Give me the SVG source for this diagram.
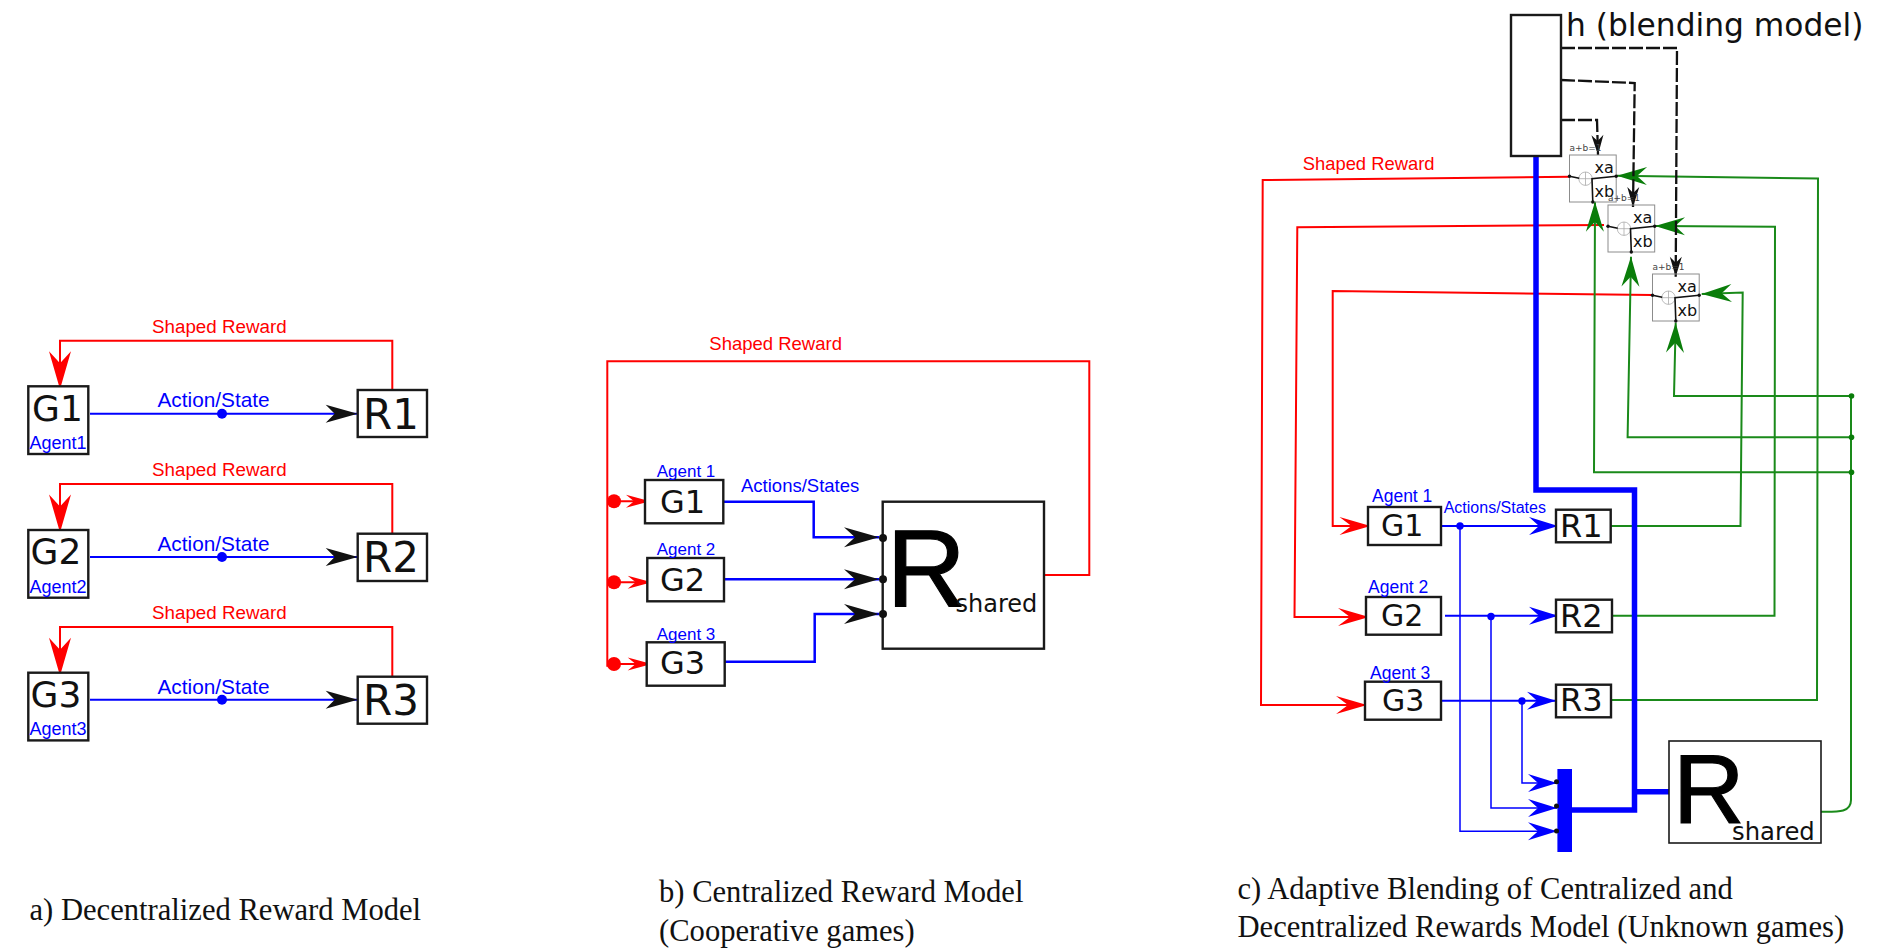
<svg xmlns="http://www.w3.org/2000/svg" width="1889" height="949" viewBox="0 0 1889 949">
<style>
.box{fill:#fff;stroke:#1a1a1a;stroke-width:2.4}
.l{fill:none}
.red{stroke:#f00;stroke-width:2}
.blue{stroke:#00f;stroke-width:2}
.blue3{stroke:#00f;stroke-width:2.5}
.thick{stroke:#00f;stroke-width:5.5}
.green{stroke:#1a8a1a;stroke-width:2}
.dash{stroke:#111;stroke-width:2.3;stroke-dasharray:14 3}
text{font-family:"Liberation Sans",Arial,sans-serif}
.dj{font-family:"DejaVu Sans",sans-serif;fill:#111}
.bigR{fill:#000;stroke:#000;stroke-width:1.2}
.tr{fill:#f00}
.tb{fill:#00f}
.cap{font-family:"Liberation Serif","Times New Roman",serif;font-size:30.6px;fill:#111}
.mix{fill:none;stroke:#8c8c8c;stroke-width:1}
.sum{fill:#fff;stroke:#aaa;stroke-width:.8}
.plus{stroke:#aaa;stroke-width:.8}
.wire{fill:none;stroke:#111;stroke-width:1.6}
</style>
<defs>
<marker id="ra" markerUnits="userSpaceOnUse" markerWidth="40" markerHeight="24" refX="38" refY="11" orient="auto" overflow="visible"><path d="M0 0L38 11L0 22L12 11Z" fill="#f00"/></marker>
<marker id="ka" markerUnits="userSpaceOnUse" markerWidth="34" markerHeight="20" refX="32" refY="9" orient="auto" overflow="visible"><path d="M0 0L32 9L0 18L9 9Z" fill="#111"/></marker>
<marker id="kb" markerUnits="userSpaceOnUse" markerWidth="36" markerHeight="22" refX="35" refY="10" orient="auto" overflow="visible"><path d="M0 0L35 10L0 20L11 10Z" fill="#111"/></marker>
<marker id="rb" markerUnits="userSpaceOnUse" markerWidth="26" markerHeight="14" refX="24" refY="6.5" orient="auto" overflow="visible"><path d="M0 0L24 6.5L0 13L8 6.5Z" fill="#f00"/></marker>
<marker id="rc" markerUnits="userSpaceOnUse" markerWidth="32" markerHeight="20" refX="31" refY="9" orient="auto" overflow="visible"><path d="M0 0L31 9L0 18L12 9Z" fill="#f00"/></marker>
<marker id="bc" markerUnits="userSpaceOnUse" markerWidth="30" markerHeight="20" refX="29" refY="9" orient="auto" overflow="visible"><path d="M0 0L29 9L0 18L10 9Z" fill="#00f"/></marker>
<marker id="gc" markerUnits="userSpaceOnUse" markerWidth="32" markerHeight="20" refX="30" refY="9" orient="auto" overflow="visible"><path d="M0 0L30 9L0 18L10 9Z" fill="#0a7d0a"/></marker>
<marker id="kc" markerUnits="userSpaceOnUse" markerWidth="22" markerHeight="14" refX="20" refY="6" orient="auto" overflow="visible"><path d="M0 0L20 6L0 12L6 6Z" fill="#111"/></marker>
</defs>
<rect width="1889" height="949" fill="#fff"/>

<g id="connectors">
<g id="conn-a" class="l">
<path class="red" d="M392.3 390V340.7H60V389.3" marker-end="url(#ra)"/>
<path class="red" d="M392.3 533.7V484H60V532.5" marker-end="url(#ra)"/>
<path class="red" d="M392.3 676.7V627H60V675.8" marker-end="url(#ra)"/>
<path class="blue" d="M90 413.7H357.7" marker-end="url(#ka)"/>
<path class="blue" d="M90 557H357.7" marker-end="url(#ka)"/>
<path class="blue" d="M90 699.7H357.7" marker-end="url(#ka)"/>
</g>
<g id="conn-b" class="l">
<path class="red" d="M1044 575H1089.3V361.3H607.3V666.7"/>
<path class="red" d="M614 501.3H650" marker-end="url(#rb)"/>
<path class="red" d="M614 582.3H651.7" marker-end="url(#rb)"/>
<path class="red" d="M614 664H651.7" marker-end="url(#rb)"/>
<path class="blue3" d="M723.3 501.7H813.7V537.3H879" marker-end="url(#kb)"/>
<path class="blue3" d="M724 579.3H879" marker-end="url(#kb)"/>
<path class="blue3" d="M724.7 661.7H814.7V614H879" marker-end="url(#kb)"/>
</g>
<g id="conn-c" class="l">
<path class="red" d="M1570 176.7L1262.7 180L1261 705H1367" marker-end="url(#rc)"/>
<path class="red" d="M1604 225L1297.3 227.3L1294.5 617H1369" marker-end="url(#rc)"/>
<path class="red" d="M1652 295L1332.7 291V526H1370.5" marker-end="url(#rc)"/>
<path class="green" d="M1610.7 526H1740.5L1742.7 292.5L1701.7 294" marker-end="url(#gc)"/>
<path class="green" d="M1612 615.7H1774.5L1775 226.7L1655 226" marker-end="url(#gc)"/>
<path class="green" d="M1611 700H1817L1818 178.5L1617 175.7" marker-end="url(#gc)"/>
<path class="green" d="M1821 811.7C1840 812 1851 812 1851 800V396H1674L1675.7 322.7" marker-end="url(#gc)"/>
<path class="green" d="M1851.5 437.3H1627.6L1631 256.7" marker-end="url(#gc)"/>
<path class="green" d="M1851.5 472.3H1594L1595 201.7" marker-end="url(#gc)"/>
<path class="thick" d="M1536 156V490H1634.5V810H1572"/>
<path class="thick" d="M1634.5 791.7H1669"/>
<path class="blue" d="M1441 526H1558" marker-end="url(#bc)"/>
<path class="blue" d="M1445 615.7H1558" marker-end="url(#bc)"/>
<path class="blue" d="M1441 700.7H1556" marker-end="url(#bc)"/>
<path class="blue" style="stroke-width:1.5" d="M1460 526V831.3H1557" marker-end="url(#bc)"/>
<path class="blue" style="stroke-width:1.5" d="M1491 616V808H1557" marker-end="url(#bc)"/>
<path class="blue" style="stroke-width:1.5" d="M1522 701V783H1557" marker-end="url(#bc)"/>
<path class="dash" d="M1561 48H1677L1675.7 276.7" marker-end="url(#kc)"/>
<path class="dash" d="M1561 80L1634.7 83L1633 207" marker-end="url(#kc)"/>
<path class="dash" d="M1561 120H1597L1598 155" marker-end="url(#kc)"/>
</g>
</g>

<g id="junctions">
<circle cx="222" cy="413.7" r="5" fill="#00f"/><circle cx="222" cy="557" r="5" fill="#00f"/><circle cx="222" cy="699.7" r="5" fill="#00f"/>
<circle cx="614" cy="501.3" r="7" fill="#f00"/><circle cx="614" cy="582.3" r="7" fill="#f00"/><circle cx="614" cy="664" r="7" fill="#f00"/>
<circle cx="1460" cy="526" r="3.7" fill="#00f"/><circle cx="1491" cy="616.5" r="3.7" fill="#00f"/><circle cx="1522" cy="701" r="3.7" fill="#00f"/>
<circle cx="1851.5" cy="396" r="2.8" fill="#0a7d0a"/><circle cx="1851.5" cy="437.3" r="2.8" fill="#0a7d0a"/><circle cx="1851.5" cy="472.3" r="2.8" fill="#0a7d0a"/>
</g>

<g id="a-G1"><rect class="box" x="28.3" y="386.3" width="60" height="67.7"/><text class="dj" x="32" y="420.7" font-size="36">G1</text><text class="tb" x="29.5" y="449" font-size="18">Agent1</text></g>
<g id="a-G2"><rect class="box" x="28.3" y="530" width="60" height="67.7"/><text class="dj" x="30.5" y="564.3" font-size="36">G2</text><text class="tb" x="29.5" y="592.7" font-size="18">Agent2</text></g>
<g id="a-G3"><rect class="box" x="28.3" y="672.7" width="60" height="67.7"/><text class="dj" x="30.5" y="707.3" font-size="36">G3</text><text class="tb" x="29.5" y="735" font-size="18">Agent3</text></g>
<g id="a-R1"><rect class="box" x="357.7" y="390" width="69.3" height="47"/><text class="dj" x="363" y="428.7" font-size="42">R1</text></g>
<g id="a-R2"><rect class="box" x="357.7" y="533.7" width="69.3" height="47.3"/><text class="dj" x="363" y="572.3" font-size="42">R2</text></g>
<g id="a-R3"><rect class="box" x="357.7" y="676.7" width="69.3" height="47"/><text class="dj" x="363" y="715" font-size="42">R3</text></g>
<g id="a-labels" font-size="18.8">
<text class="tr" x="152" y="332.7">Shaped Reward</text><text class="tr" x="152" y="476">Shaped Reward</text><text class="tr" x="152" y="619">Shaped Reward</text>
<text class="tb" x="157.5" y="407.3" font-size="20.8">Action/State</text><text class="tb" x="157.5" y="551" font-size="20.8">Action/State</text><text class="tb" x="157.5" y="693.7" font-size="20.8">Action/State</text>
</g>

<g id="b-G1"><rect class="box" x="645" y="480" width="78.3" height="43.3"/><text class="dj" x="660" y="512.7" font-size="32">G1</text><text class="tb" x="656.7" y="476.7" font-size="17">Agent 1</text></g>
<g id="b-G2"><rect class="box" x="647.3" y="558" width="76.7" height="43.3"/><text class="dj" x="660" y="591" font-size="32">G2</text><text class="tb" x="656.7" y="555" font-size="17">Agent 2</text></g>
<g id="b-G3"><rect class="box" x="646.7" y="642.3" width="78" height="43.4"/><text class="dj" x="660" y="674.3" font-size="32">G3</text><text class="tb" x="656.7" y="640" font-size="17">Agent 3</text></g>
<g id="b-Rshared"><rect class="box" x="882.7" y="501.7" width="161.3" height="147" style="fill:none"/><text class="bigR" x="886.5" y="606" font-size="110">R</text><text class="dj" x="955.5" y="611.7" font-size="24">shared</text>
<circle cx="883" cy="538" r="4" fill="#111"/><circle cx="883" cy="579.3" r="4" fill="#111"/><circle cx="883" cy="614" r="4" fill="#111"/></g>
<text id="b-reward" class="tr" x="709.3" y="350" font-size="18.5">Shaped Reward</text>
<text id="b-actions" class="tb" x="741" y="492.3" font-size="18.5">Actions/States</text>

<g id="c-h"><rect class="box" x="1511" y="15" width="50" height="141" style="fill:none"/><text class="dj" x="1566" y="35.5" font-size="31.3">h (blending model)</text></g>
<g id="c-mix1" transform="translate(1569.5 155)"><rect class="mix" width="46.7" height="47"/><circle class="sum" cx="16" cy="23.7" r="6.7"/><path class="plus" d="M9.3 23.7H22.7M16 17V30.4"/><path class="wire" d="M0 21.3L9.7 23.3M46.7 21.3L22.5 23.7L23.3 47"/><circle cy="21.3" r="1.7" fill="#111"/><circle cx="46.7" cy="21.3" r="1.7" fill="#111"/><circle cx="23.3" cy="47" r="1.7" fill="#111"/><text class="dj" x="25" y="17.7" font-size="16">xa</text><text class="dj" x="25" y="42.3" font-size="16">xb</text><text class="dj" x="0" y="-4" font-size="9" style="fill:#444">a+b=1</text></g>
<g id="c-mix2" transform="translate(1608 205)"><rect class="mix" width="46.7" height="47"/><circle class="sum" cx="16" cy="23.7" r="6.7"/><path class="plus" d="M9.3 23.7H22.7M16 17V30.4"/><path class="wire" d="M0 21.3L9.7 23.3M46.7 21.3L22.5 23.7L23.3 47"/><circle cy="21.3" r="1.7" fill="#111"/><circle cx="46.7" cy="21.3" r="1.7" fill="#111"/><circle cx="23.3" cy="47" r="1.7" fill="#111"/><text class="dj" x="25" y="17.7" font-size="16">xa</text><text class="dj" x="25" y="42.3" font-size="16">xb</text><text class="dj" x="0" y="-4" font-size="9" style="fill:#444">a+b=1</text></g>
<g id="c-mix3" transform="translate(1652.5 274)"><rect class="mix" width="46.7" height="47"/><circle class="sum" cx="16" cy="23.7" r="6.7"/><path class="plus" d="M9.3 23.7H22.7M16 17V30.4"/><path class="wire" d="M0 21.3L9.7 23.3M46.7 21.3L22.5 23.7L23.3 47"/><circle cy="21.3" r="1.7" fill="#111"/><circle cx="46.7" cy="21.3" r="1.7" fill="#111"/><circle cx="23.3" cy="47" r="1.7" fill="#111"/><text class="dj" x="25" y="17.7" font-size="16">xa</text><text class="dj" x="25" y="42.3" font-size="16">xb</text><text class="dj" x="0" y="-4" font-size="9" style="fill:#444">a+b=1</text></g>
<g id="c-G1"><rect class="box" x="1368" y="507" width="73" height="38"/><text class="dj" x="1381" y="535.8" font-size="30">G1</text><text class="tb" x="1372" y="501.7" font-size="17.5">Agent 1</text></g>
<g id="c-G2"><rect class="box" x="1366" y="597" width="75" height="37.7"/><text class="dj" x="1381" y="626" font-size="30">G2</text><text class="tb" x="1368" y="593.3" font-size="17.5">Agent 2</text></g>
<g id="c-G3"><rect class="box" x="1365" y="681.7" width="76" height="38"/><text class="dj" x="1382" y="711" font-size="30">G3</text><text class="tb" x="1370" y="678.7" font-size="17.5">Agent 3</text></g>
<g id="c-R1"><rect class="box" x="1556" y="509.7" width="54.7" height="32.6"/><text class="dj" x="1560" y="536.5" font-size="32">R1</text></g>
<g id="c-R2"><rect class="box" x="1556" y="599.7" width="56" height="32.6"/><text class="dj" x="1560" y="626.5" font-size="32">R2</text></g>
<g id="c-R3"><rect class="box" x="1556" y="684.7" width="55" height="32.6"/><text class="dj" x="1560" y="711" font-size="32">R3</text></g>
<g id="c-Rshared"><rect class="box" x="1669" y="741" width="152" height="102" style="stroke-width:1.6"/><text class="bigR" x="1673" y="822.5" font-size="99">R</text><text class="dj" x="1732" y="840" font-size="24.3">shared</text></g>
<g id="c-merge"><rect x="1557.4" y="769" width="14.6" height="83" fill="#00f"/><circle cx="1556.5" cy="781.7" r="2.5" fill="#111"/><circle cx="1556.5" cy="806" r="2.5" fill="#111"/><circle cx="1556.5" cy="831" r="2.5" fill="#111"/></g>
<text id="c-reward" class="tr" x="1302.7" y="170" font-size="18.4">Shaped Reward</text>
<text id="c-actions" class="tb" x="1443.7" y="513.3" font-size="16">Actions/States</text>

<g id="captions">
<text class="cap" x="29.5" y="920">a) Decentralized Reward Model</text>
<text class="cap" x="659" y="901.7">b) Centralized Reward Model</text>
<text class="cap" x="659" y="941">(Cooperative games)</text>
<text class="cap" x="1237.5" y="899">c) Adaptive Blending of Centralized and</text>
<text class="cap" x="1237.5" y="937">Decentralized Rewards Model (Unknown games)</text>
</g>
</svg>
